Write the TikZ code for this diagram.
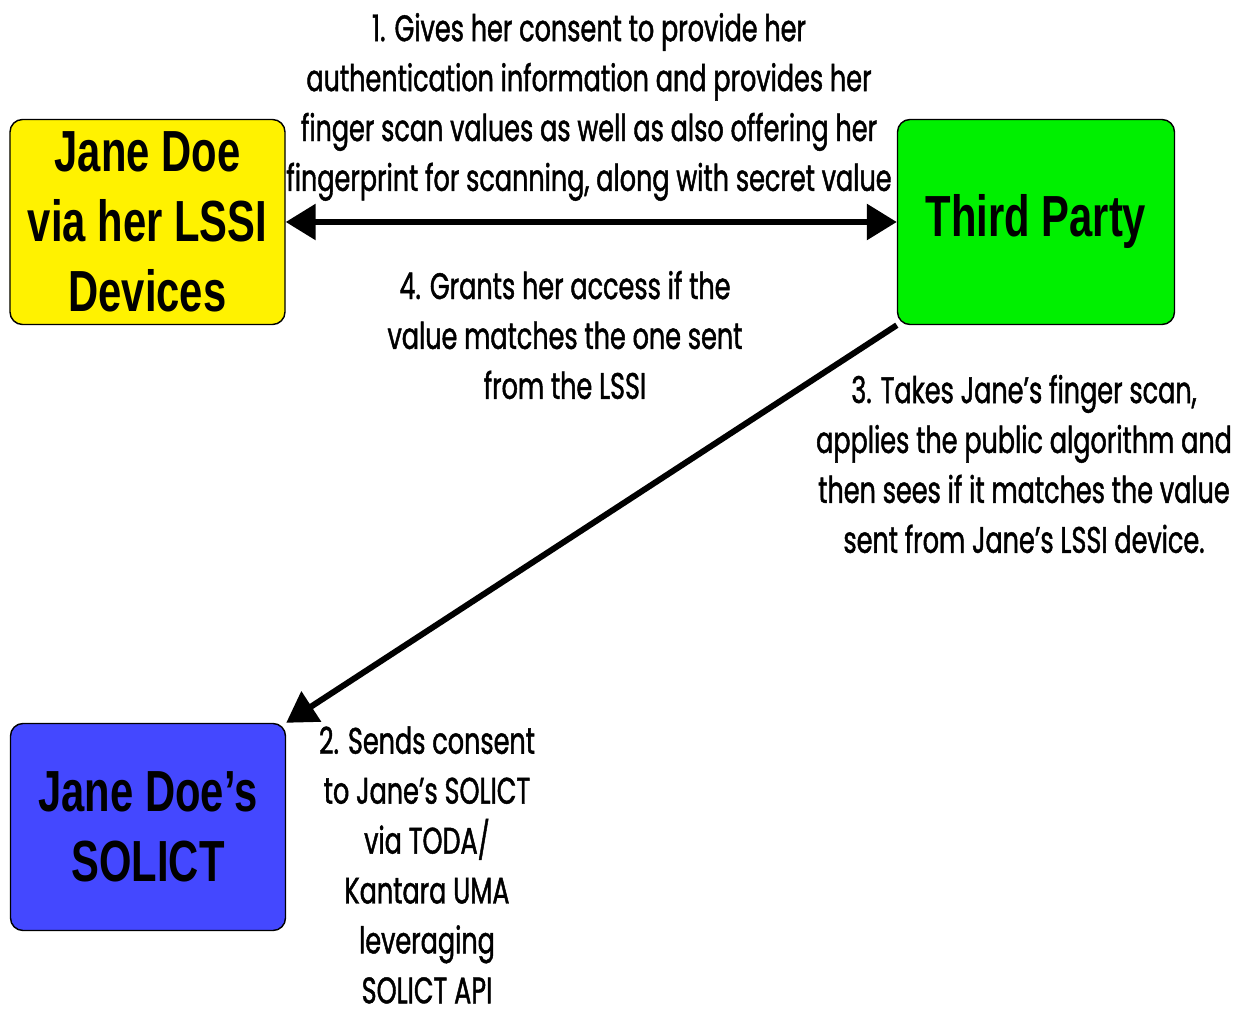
\documentclass[tikz,border=0pt]{standalone}
\usepackage{fontspec}
\newfontfamily\boxfont[FakeStretch=0.72]{Liberation Sans}
\newfontfamily\notefont[FakeStretch=0.69,FakeBold=1.2]{Poppins}
\usetikzlibrary{arrows.meta,positioning}

\definecolor{lssiyellow}{RGB}{255,242,0}
\definecolor{partygreen}{RGB}{0,240,0}
\definecolor{solictblue}{RGB}{68,72,255}

\begin{document}
\begin{tikzpicture}[>={Triangle[length=6mm,width=7mm]},
  party/.style={draw, line width=0.8pt, rounded corners=2.5mm,
    minimum width=5.5cm, minimum height=4.1cm, align=center,
    font=\boxfont\bfseries\fontsize{33}{40}\selectfont},
  note/.style={align=center, inner sep=0pt, font=\notefont\fontsize{21}{28.4}\selectfont},
  flow/.style={line width=3.4pt}]

\useasboundingbox (0,0) rectangle (24.68,-20.3);

% Parties
\node[party, fill=lssiyellow] (lssi) at (2.95,-4.44) {Jane Doe\\via her LSSI\\Devices};
\node[party, fill=partygreen, minimum width=5.54cm] (third) at (20.72,-4.44) {Third Party};
\node[party, fill=solictblue, minimum height=4.14cm] (solict) at (2.96,-16.54) {Jane Doe’s\\SOLICT};

% Steps
\node[note] (step1) at (11.78,-2.14) {1. Gives her consent to provide her\\authentication information and provides her\\finger scan values as well as also offering her\\fingerprint for scanning, along with secret value};
\node[note] (step4) at (11.3,-6.7) {4. Grants her access if the\\value matches the one sent\\from the LSSI};
\node[note] (step3) at (20.48,-9.28) {3. Takes Jane’s finger scan,\\applies the public algorithm and\\then sees if it matches the value\\sent from Jane’s LSSI device.};
\node[note] (step2) at (8.54,-17.3) {2. Sends consent\\to Jane’s SOLICT\\via TODA/\\Kantara UMA\\leveraging\\SOLICT API};

% Connectors
\draw[flow, <->] (lssi) -- (third);
\draw[flow, ->] (third.south west) -- (solict.north east);

\end{tikzpicture}
\end{document}
